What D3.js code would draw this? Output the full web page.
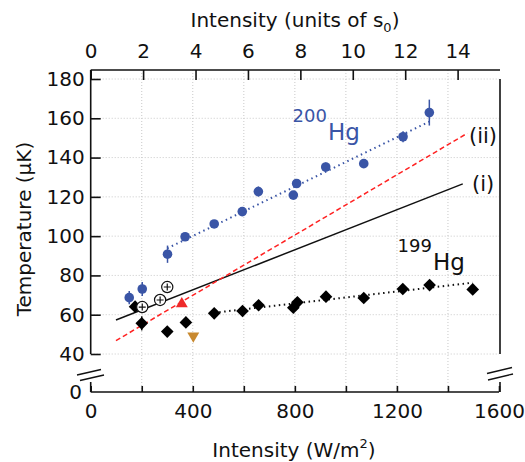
<!DOCTYPE html>
<html>
<head>
<meta charset="utf-8">
<script src="https://cdn.jsdelivr.net/npm/d3@7"></script>
<style>
  body { margin: 0; background: #fff; }
  svg { display: block; }
  text { font-family: "DejaVu Sans", sans-serif; fill: #111; }
</style>
</head>
<body>
<svg id="chart" width="525" height="462"></svg>
<script>
// 200Hg temperatures: [intensity W/m², temperature µK, error µK]
const hg200 = [
  [151, 68.7, 3.4], [202, 73.1, 3.6], [301, 90.8, 4.4], [370, 99.7, 1.2],
  [484, 106.2, 1.2], [594, 112.5, 1.0], [657, 122.7, 2.6], [794, 120.9, 1.0],
  [807, 126.8, 1.5], [921, 135.2, 2.3], [1070, 136.9, 1.0], [1224, 150.6, 2.8],
  [1327, 162.9, 6.6]
];
// 199Hg temperatures: [intensity W/m², temperature µK, error µK]
const hg199 = [
  [174, 64.1, 0], [200, 55.6, 3.6], [300, 51.4, 0], [373, 56.1, 0],
  [484, 60.7, 0], [595, 61.9, 0], [658, 64.8, 0], [794, 63.6, 0],
  [810, 66.3, 0], [922, 69.2, 0], [1070, 68.5, 0], [1223, 73.1, 0],
  [1328, 75.1, 0], [1497, 72.9, 0]
];
// additional measurements
const openCross = [[202, 63.9], [272, 67.5], [300, 74.1]];
const redUp = [[357, 65.5]];
const orangeDown = [[402, 49.2]];

// linear fits and model curves: [[W0, T0], [W1, T1]]
const fit200 = [[300, 93.8], [1327, 158.3]];
const fit199 = [[484, 61.0], [1497, 76.3]];
const modelI = [[99, 57.3], [1458, 126.6]];
const modelII = [[99, 46.8], [1476, 152.4]];

// axis ticks
const xTicks = [0, 200, 400, 600, 800, 1000, 1200, 1400, 1600];
const xLabels = [0, 400, 800, 1200, 1600];
const yTicks = [40, 60, 80, 100, 120, 140, 160, 180];
const topTicks = [0, 2, 4, 6, 8, 10, 12, 14];
const s0 = 102.7; // saturation intensity, W/m²

const svg = d3.select("#chart");
const left = 90.7, right = 499, frameTop = 70, bottom = 392;

const x = d3.scaleLinear().domain([0, 1600]).range([left, right]);
const xTop = d3.scaleLinear().domain([0, 1600 / s0]).range([left, right]);
// broken temperature axis: 0 sits just below the 40–180 span
const y = d3.scaleLinear().domain([0, 40, 180]).range([bottom, 354, 79]);

const blue = "#3a55a6";

// grid
const grid = svg.append("g").attr("stroke", "#c9c9c9").attr("stroke-width", 1)
  .attr("stroke-dasharray", "1,2");
grid.selectAll("line.v").data(xTicks.filter(d => d > 0 && d < 1600)).join("line")
  .attr("x1", d => x(d)).attr("x2", d => x(d)).attr("y1", frameTop).attr("y2", bottom);
grid.selectAll("line.h").data(yTicks).join("line")
  .attr("x1", left).attr("x2", right).attr("y1", d => y(d)).attr("y2", d => y(d));

// frame lines with the axis break between 0 and 40
const frame = svg.append("g").attr("stroke", "#111").attr("stroke-width", 1.6).attr("fill", "none");
frame.append("line").attr("x1", left).attr("x2", right + 1).attr("y1", frameTop).attr("y2", frameTop);
frame.append("line").attr("x1", left).attr("x2", left).attr("y1", frameTop).attr("y2", y(40));
frame.append("line").attr("x1", left).attr("x2", left).attr("y1", 382).attr("y2", bottom);
frame.append("line").attr("x1", left).attr("x2", right).attr("y1", bottom).attr("y2", bottom);
frame.append("line").attr("x1", right + 1).attr("x2", right + 1).attr("y1", y(180)).attr("y2", y(40));
frame.append("line").attr("x1", right + 1).attr("x2", right + 1).attr("y1", 382).attr("y2", bottom);
// break marks
[[77, 375, 101, 369.5], [80, 380.5, 104, 375], [487, 373.5, 512, 367.5], [488, 380, 513, 374]]
  .forEach(([x1, y1, x2, y2]) => frame.append("line")
    .attr("x1", x1).attr("y1", y1).attr("x2", x2).attr("y2", y2).attr("stroke-width", 1.3));

function styleAxis(g) {
  g.select(".domain").remove();
  g.selectAll(".tick line").attr("stroke", "#111").attr("stroke-width", 1.6);
  g.selectAll(".tick text").attr("font-size", 20).attr("fill", "#111")
    .attr("font-family", "DejaVu Sans, sans-serif");
}

svg.append("g").attr("transform", `translate(0,${bottom})`)
  .call(d3.axisBottom(x).tickValues(xTicks).tickSize(-6).tickPadding(12)
    .tickFormat(d => xLabels.includes(d) ? d : ""))
  .call(styleAxis);

svg.append("g").attr("transform", `translate(${left},0)`)
  .call(d3.axisLeft(y).tickValues(yTicks).tickSize(-10).tickPadding(6))
  .call(styleAxis);

svg.append("g").attr("transform", `translate(0,${frameTop})`)
  .call(d3.axisTop(xTop).tickValues(topTicks).tickSize(-10).tickPadding(12))
  .call(styleAxis);

// zero label below the break
svg.append("text").attr("x", 82).attr("y", y(0)).attr("dy", "0.35em")
  .attr("text-anchor", "end").attr("font-size", 20).text("0");

// axis titles
const bt = svg.append("text").attr("x", 294).attr("y", 457).attr("text-anchor", "middle")
  .attr("font-size", 20);
bt.append("tspan").text("Intensity (W/m");
bt.append("tspan").attr("font-size", 13).attr("dy", -9).text("2");
bt.append("tspan").attr("dy", 9).text(")");

const tt = svg.append("text").attr("x", 295).attr("y", 27).attr("text-anchor", "middle")
  .attr("font-size", 20);
tt.append("tspan").text("Intensity (units of s");
tt.append("tspan").attr("font-size", 13).attr("dy", 5).text("0");
tt.append("tspan").attr("dy", -5).text(")");

svg.append("text").attr("transform", "translate(31,229) rotate(-90)")
  .attr("text-anchor", "middle").attr("font-size", 20).text("Temperature (\u03bcK)");

// model lines (i) and (ii)
const line = d3.line().x(d => x(d[0])).y(d => y(d[1]));
svg.append("path").datum(modelI).attr("d", line).attr("fill", "none")
  .attr("stroke", "#111").attr("stroke-width", 1.5);
svg.append("path").datum(modelII).attr("d", line).attr("fill", "none")
  .attr("stroke", "#f22").attr("stroke-width", 1.5).attr("stroke-dasharray", "5,3");
svg.append("text").attr("x", 469).attr("y", 143).attr("font-size", 21).text("(ii)");
svg.append("text").attr("x", 472).attr("y", 191).attr("font-size", 21).text("(i)");

// fits
svg.append("path").datum(fit200).attr("d", line).attr("fill", "none")
  .attr("stroke", blue).attr("stroke-width", 2).attr("stroke-dasharray", "1.5,3.5");
svg.append("path").datum(fit199).attr("d", line).attr("fill", "none")
  .attr("stroke", "#111").attr("stroke-width", 2).attr("stroke-dasharray", "1.5,3.5");

// 200Hg points with error bars
svg.append("g").selectAll("line").data(hg200.filter(d => d[2] > 0)).join("line")
  .attr("x1", d => x(d[0])).attr("x2", d => x(d[0]))
  .attr("y1", d => y(d[1] - d[2])).attr("y2", d => y(d[1] + d[2]))
  .attr("stroke", blue).attr("stroke-width", 1.5);
svg.append("g").selectAll("circle").data(hg200).join("circle")
  .attr("cx", d => x(d[0])).attr("cy", d => y(d[1])).attr("r", 4.8).attr("fill", blue);

// 199Hg points
svg.append("g").selectAll("line").data(hg199.filter(d => d[2] > 0)).join("line")
  .attr("x1", d => x(d[0])).attr("x2", d => x(d[0]))
  .attr("y1", d => y(d[1] - d[2])).attr("y2", d => y(d[1] + d[2]))
  .attr("stroke", "#111").attr("stroke-width", 1.5);
const diamond = d3.symbol(d3.symbolSquare, 80)();
svg.append("g").selectAll("path").data(hg199).join("path")
  .attr("d", diamond)
  .attr("transform", d => `translate(${x(d[0])},${y(d[1])}) rotate(45)`)
  .attr("fill", "#000");

// open circles with cross
const oc = svg.append("g").selectAll("g").data(openCross).join("g")
  .attr("transform", d => `translate(${x(d[0])},${y(d[1])})`);
oc.append("circle").attr("r", 5.6).attr("fill", "#fff").attr("stroke", "#111").attr("stroke-width", 1.2);
oc.append("path").attr("d", "M-3.5,0H3.5M0,-3.5V3.5").attr("stroke", "#111").attr("stroke-width", 1.2);

// triangles
const tri = d3.symbol(d3.symbolTriangle, 62)();
svg.append("g").selectAll("path").data(redUp).join("path")
  .attr("d", tri).attr("transform", d => `translate(${x(d[0])},${y(d[1])})`)
  .attr("fill", "#ee2a2a");
svg.append("g").selectAll("path").data(orangeDown).join("path")
  .attr("d", tri).attr("transform", d => `translate(${x(d[0])},${y(d[1])}) rotate(180)`)
  .attr("fill", "#c8892f");

// isotope labels
function isoLabel(xp, ySup, yMain, mass, color) {
  svg.append("text").attr("x", xp).attr("y", ySup).attr("font-size", 18)
    .attr("fill", color).style("fill", color).text(mass);
  svg.append("text").attr("x", xp + 35.5).attr("y", yMain).attr("font-size", 23)
    .attr("fill", color).style("fill", color).text("Hg");
}
isoLabel(292.5, 122, 140, "200", blue);
isoLabel(397.5, 252, 269.5, "199", "#111");
</script>
</body>
</html>
